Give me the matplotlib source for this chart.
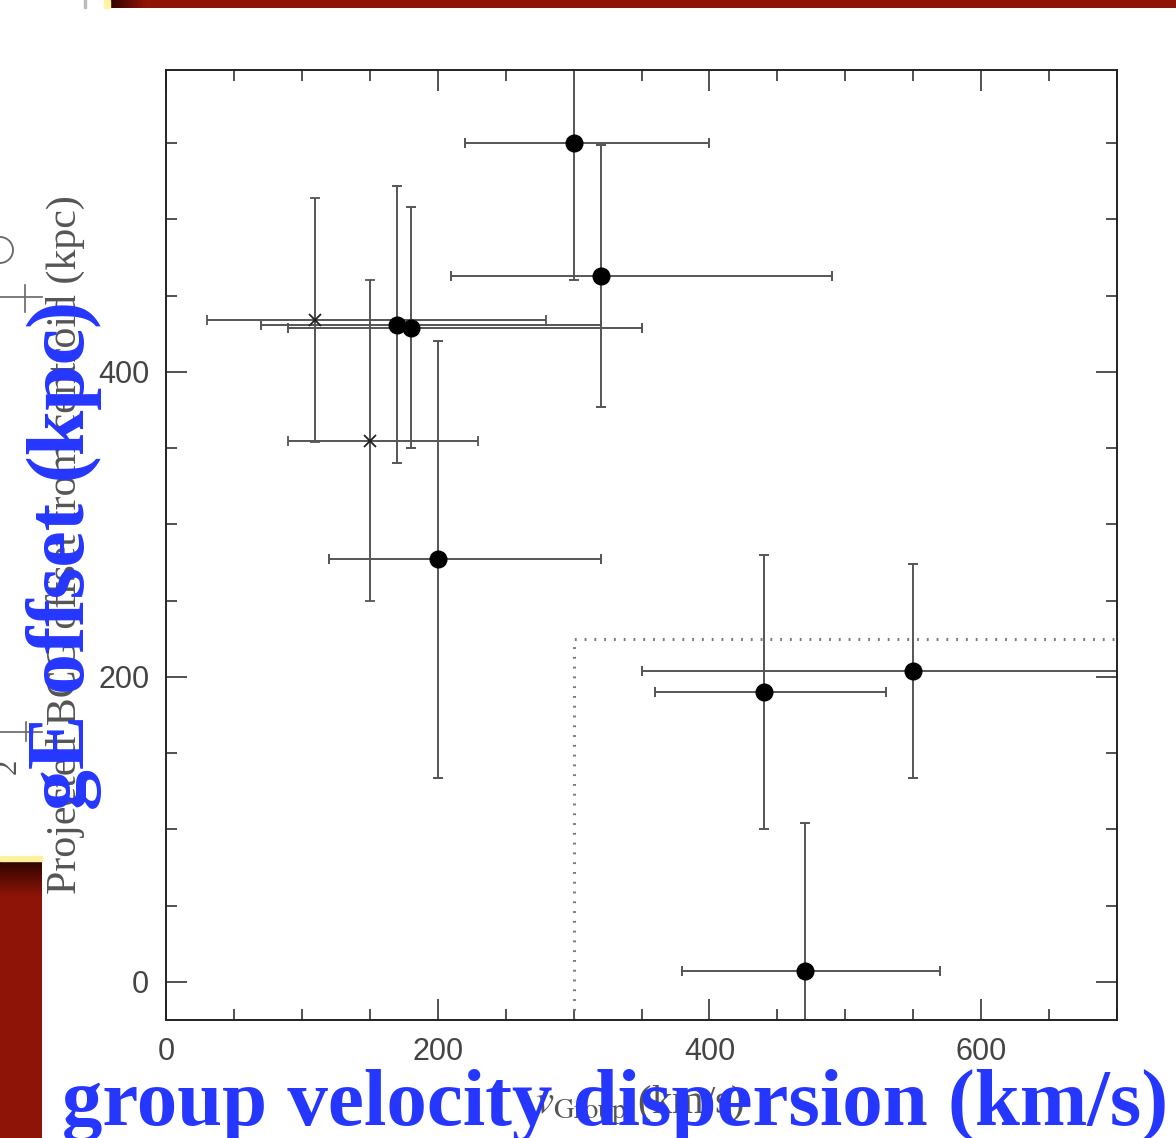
import matplotlib
matplotlib.use("Agg")
import matplotlib.pyplot as plt
import numpy as np
from matplotlib.patches import Rectangle, Ellipse
from matplotlib.lines import Line2D

W, H = 1176, 1138

# groups with a gE (filled circles)
vel = [300, 320, 170, 180, 200, 440, 550, 470]
vel_lo = [80, 110, 100, 90, 80, 80, 200, 90]
vel_hi = [100, 170, 150, 170, 120, 90, 200, 100]
off = [550, 463, 431, 429, 277, 190, 204, 7]
off_err = [90, 86, 91, 79, 143, 90, 70, 97]

# crosses
xvel = [110, 150]
xvel_lo = [80, 60]
xvel_hi = [170, 80]
xoff = [434, 355]
xoff_err = [80, 105]

# dotted region
box_vel = [300, 300, 700]
box_off = [-25, 225, 225]

xticks = [0, 200, 400, 600]
yticks = [0, 200, 400]

plt.rcParams['mathtext.fontset'] = 'stix'

fig = plt.figure(figsize=(W / 100, H / 100), dpi=100)


def px(x, y):
    return x / W, 1 - y / H


# ---- slide decorations
red = np.array([0x8e, 0x14, 0x07]) / 255
dark = np.array([0x30, 0x04, 0x00]) / 255

bar = fig.add_axes([110 / W, 1 - 8 / H, 1 - 110 / W, 8 / H])
n = 1066
t = np.clip(np.arange(n) / 35.0, 0, 1)[:, None]
bar.imshow((dark * (1 - t) + red * t)[None, :, :], aspect='auto')
bar.axis('off')

blk = fig.add_axes([0, 0, 42 / W, (H - 861) / H])
n = H - 861
t = np.clip(np.arange(n) / 35.0, 0, 1)[:, None]
blk.imshow((dark * (1 - t) + red * t)[:, None, :], aspect='auto')
blk.axis('off')

fig.add_artist(Rectangle(px(104, 8), 6 / W, 8 / H, color='#fff3a6',
                         transform=fig.transFigure))
fig.add_artist(Rectangle(px(84, 8), 2 / W, 8 / H, color='#bbbbbb',
                         transform=fig.transFigure))
fig.add_artist(Rectangle(px(0, 861), 42 / W, 5 / H, color='#fff0a0',
                         transform=fig.transFigure))

# leftovers of another figure at the left edge
fig.add_artist(Ellipse(px(0, 250), 26 / W, 26 / H, fill=False, ec='#666666',
                       lw=1.3, transform=fig.transFigure))
for yy, xv, y0, y1 in [(297, 25, 285, 312), (732, 26, 722, 741)]:
    fig.add_artist(Line2D([0, 42 / W], [1 - yy / H] * 2, color='#666666',
                          lw=1.2, transform=fig.transFigure))
    fig.add_artist(Line2D([xv / W] * 2, [1 - y0 / H, 1 - y1 / H],
                          color='#666666', lw=1.2, transform=fig.transFigure))
fig.text(*px(8, 766), "2", rotation=90, family='Liberation Serif',
         fontsize=22, color='#555555', ha='center', va='center')

# ---- the plot
ax = fig.add_axes([166 / W, 1 - 1020 / H, (1117 - 166) / W, (1020 - 70) / H])
ax.set_xlim(0, 700)
ax.set_ylim(-25, 598)

ax.plot(box_vel, box_off, ls=(0, (0.6, 2.6)), color='#7a7a7a', lw=2.2)

ax.errorbar(vel, off, xerr=[vel_lo, vel_hi], yerr=off_err, fmt='o',
            color='black', ms=12, ecolor='#555555', elinewidth=1.4,
            capsize=3.5, capthick=1.4)
ax.errorbar(xvel, xoff, xerr=[xvel_lo, xvel_hi], yerr=xoff_err, fmt='x',
            color='#222222', ms=8, mew=1.3, ecolor='#555555', elinewidth=1.4,
            capsize=3.5, capthick=1.4)

ax.set_xticks(xticks)
ax.set_yticks(yticks)
ax.set_xticks(np.arange(0, 701, 50), minor=True)
ax.set_yticks(np.arange(0, 598, 50), minor=True)
ax.tick_params(which='both', direction='in', top=True, right=True,
               color='#333333', width=1.2)
ax.tick_params(which='major', length=15, labelsize=22, labelcolor='#444444',
               pad=12)
ax.tick_params(which='minor', length=8)
for lab in ax.get_xticklabels() + ax.get_yticklabels():
    lab.set_family('Liberation Sans')
for s in ax.spines.values():
    s.set_linewidth(1.4)
    s.set_color('#222222')

# original (scanned) axis titles
oy = fig.text(*px(65, 545), "Projected BCG offset from centroid (kpc)",
              rotation=90, family='Liberation Serif', fontsize=24,
              color='#555555', ha='center', va='center')
ox = fig.text(*px(640, 1105), r"$v_{\rm Group}$ (km/s)",
              family='Liberation Serif', fontsize=24, color='#555555',
              ha='center', va='center')

# blue overlay titles
blue = '#2537ff'
tx = fig.text(*px(62, 1125), "group velocity dispersion (km/s)",
              family='Liberation Serif', weight='bold', color=blue,
              fontsize=54, ha='left', va='baseline')
ty = fig.text(*px(84, 555), "gE offset (kpc)", rotation=90,
              rotation_mode='anchor', family='Liberation Serif',
              weight='bold', color=blue, fontsize=54, ha='center',
              va='baseline')

r = fig.canvas.get_renderer()
tx.set_fontsize(54 * 1106 / tx.get_window_extent(r).width)
ty.set_fontsize(54 * 510 / ty.get_window_extent(r).height)
oy.set_fontsize(24 * 700 / oy.get_window_extent(r).height)
ox.set_fontsize(24 * 210 / ox.get_window_extent(r).width)

fig.savefig("out.png", dpi=100)
